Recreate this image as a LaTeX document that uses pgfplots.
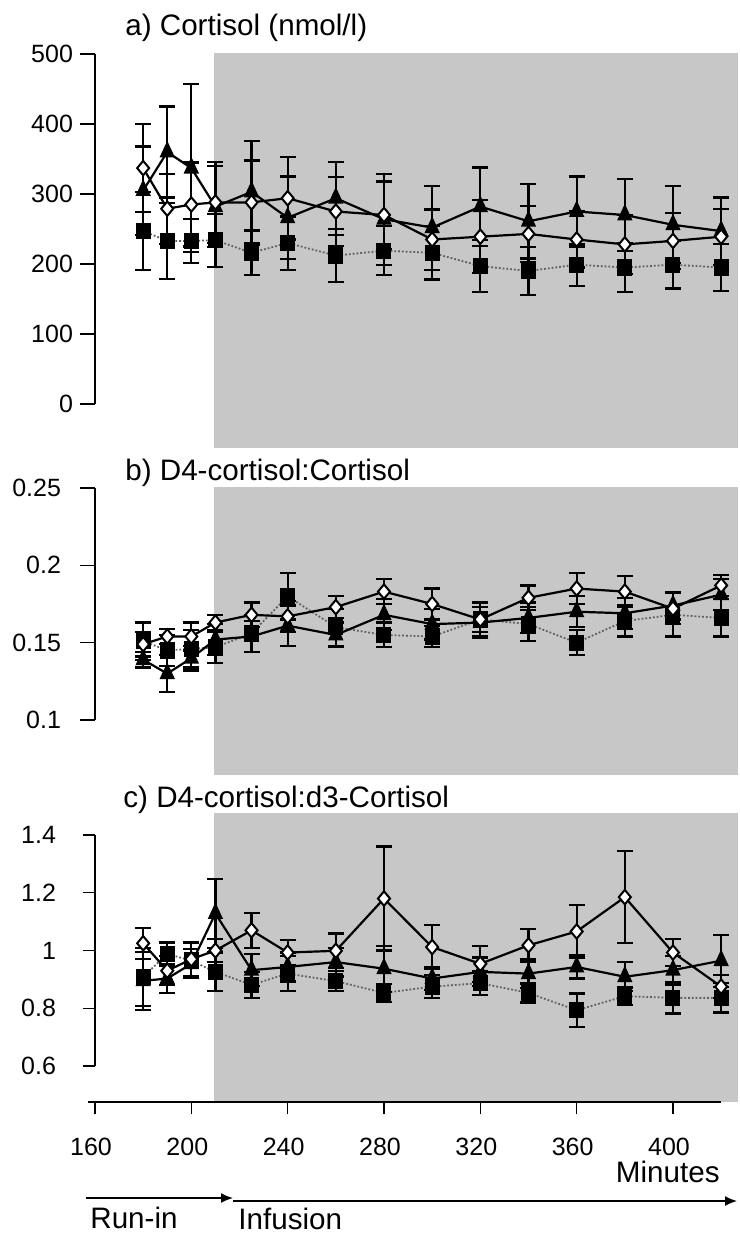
\documentclass[border=0pt]{standalone}
\usepackage{fontspec}
\setmainfont{Liberation Sans}
\usepackage{pgfplots}
\pgfplotsset{compat=1.18}
\usepackage{pgfplotstable}
\usetikzlibrary{arrows.meta}
\definecolor{shade}{RGB}{199,199,199}

% ---------- panel a: Cortisol (nmol/l) ----------
\pgfplotstableread{
x y e
180 337 63
190 279 50
200 285 60
210 288 58
225 288 60
240 294 59
260 275 49
280 270 48
300 235 43
320 239 52
340 243 40
360 235 40
380 228 42
400 233 40
420 239 40
}\aD
\pgfplotstableread{
x y e
180 305 63
190 360 65
200 337 120
210 282 58
225 303 73
240 266 59
260 294 52
280 264 65
300 252 60
320 282 56
340 261 53
360 275 50
380 270 51
400 256 55
420 247 48
}\aT
\pgfplotstableread{
x y e
180 247 56
190 233 54
200 233 31
210 234 38
225 216 32
240 230 38
260 212 38
280 219 35
300 216 38
320 197 37
340 190 34
360 199 30
380 195 35
400 199 34
420 195 34
}\aS
% ---------- panel b: D4-cortisol:Cortisol ----------
\pgfplotstableread{
x y e
180 0.149 0.008
190 0.154 0.005
200 0.154 0.009
210 0.163 0.005
225 0.168 0.008
240 0.167 0.010
260 0.173 0.007
280 0.183 0.008
300 0.175 0.010
320 0.165 0.008
340 0.179 0.008
360 0.185 0.010
380 0.183 0.010
400 0.172 0.010
420 0.187 0.007
}\bD
\pgfplotstableread{
x y e
180 0.139 0.005
190 0.130 0.012
200 0.140 0.008
210 0.152 0.010
225 0.154 0.010
240 0.161 0.013
260 0.155 0.008
280 0.168 0.010
300 0.162 0.010
320 0.163 0.010
340 0.166 0.010
360 0.170 0.010
380 0.169 0.010
400 0.174 0.009
420 0.181 0.010
}\bT
\pgfplotstableread{
x y e
180 0.151 0.012
190 0.145 0.010
200 0.146 0.012
210 0.147 0.010
225 0.156 0.012
240 0.180 0.015
260 0.160 0.012
280 0.155 0.008
300 0.154 0.007
320 0.165 0.011
340 0.162 0.011
360 0.150 0.008
380 0.164 0.010
400 0.168 0.014
420 0.166 0.012
}\bS
% ---------- panel c: D4-cortisol:d3-Cortisol ----------
\pgfplotstableread{
x y e
180 1.025 0.053
190 0.930 0.050
200 0.970 0.060
210 1.000 0.040
225 1.070 0.060
240 0.993 0.043
260 0.999 0.060
280 1.180 0.180
300 1.012 0.075
320 0.954 0.062
340 1.018 0.056
360 1.066 0.093
380 1.185 0.160
400 0.993 0.047
420 0.875 0.040
}\cD
\pgfplotstableread{
x y e
180 0.895 0.100
190 0.903 0.050
200 0.954 0.050
210 1.128 0.120
225 0.932 0.055
240 0.943 0.050
260 0.960 0.050
280 0.937 0.080
300 0.903 0.040
320 0.926 0.050
340 0.920 0.050
360 0.943 0.040
380 0.909 0.050
400 0.932 0.050
420 0.965 0.090
}\cT
\pgfplotstableread{
x y e
180 0.909 0.100
190 0.988 0.040
200 0.965 0.060
210 0.926 0.067
225 0.881 0.045
240 0.920 0.060
260 0.894 0.035
280 0.853 0.030
300 0.875 0.040
320 0.887 0.042
340 0.853 0.033
360 0.793 0.058
380 0.842 0.030
400 0.836 0.054
420 0.836 0.051
}\cS

\pgfplotsset{
  panel/.style={
    scale only axis, anchor=south west, width=321.5pt,
    xmin=160, xmax=427, clip=false,
    axis y line*=left, axis line style={-, line width=0.6pt},
    tick align=outside, major tick length=7.5pt,
    tick style={black, line width=0.6pt},
    /pgf/number format/assume math mode=true,
    ticklabel style={font=\fontsize{12.5}{14}\selectfont},
  },
  errs/.style={error bars/.cd, y dir=both, y explicit,
    error bar style={solid, black, line width=1.1pt},
    error mark options={rotate=90, mark size=4pt, line width=1.1pt, black, solid}},
  serD/.style={black, line width=1.1pt, mark=diamond*, mark size=4pt,
    mark options={fill=white, draw=black, line width=1pt, solid, yscale=0.9}, errs},
  serT/.style={black, line width=1.1pt, mark=triangle*, mark size=4.3pt,
    mark options={fill=black, draw=black, solid, xscale=0.8}, errs},
  serS/.style={gray!75!black, densely dotted, line width=0.9pt, mark=square*, mark size=3.3pt,
    mark options={fill=black, draw=black, solid, yscale=1.1}, errs},
}

\begin{document}
\begin{tikzpicture}
\path[use as bounding box] (0,0) rectangle (369.5pt,-617.5pt);

% ---- panel a ----
\begin{axis}[panel, at={(47.5pt,-202pt)}, height=175pt,
  ymin=0, ymax=500, axis x line=none,
  ytick={0,100,200,300,400,500}]
  \addplot[fill=shade, draw=none, forget plot] coordinates {(209.5,-63) (427,-63) (427,501) (209.5,501)} -- cycle;
  \addplot[serS] table[x=x, y=y, y error=e] {\aS};
  \addplot[serT] table[x=x, y=y, y error=e] {\aT};
  \addplot[serD] table[x=x, y=y, y error=e] {\aD};
\end{axis}

% ---- panel b ----
\begin{axis}[panel, at={(47.5pt,-360pt)}, height=116pt,
  ymin=0.1, ymax=0.25, axis x line=none,
  ytick={0.1,0.15,0.2,0.25},
  yticklabels={0.1\hspace*{6pt},0.15\hspace*{6pt},0.2\hspace*{6pt},0.25\hspace*{6pt}}]
  \addplot[fill=shade, draw=none, forget plot] coordinates {(209.5,0.0644) (427,0.0644) (427,0.2506) (209.5,0.2506)} -- cycle;
  \addplot[serS] table[x=x, y=y, y error=e] {\bS};
  \addplot[serT] table[x=x, y=y, y error=e] {\bT};
  \addplot[serD] table[x=x, y=y, y error=e] {\bD};
\end{axis}

% ---- panel c ----
\begin{axis}[panel, at={(47.5pt,-551pt)}, height=133.5pt,
  ymin=0.4753, ymax=1.4, axis x line*=bottom, major tick length=6pt,
  x axis line style={draw=none}, y axis line style={draw=none},
  xticklabel style={yshift=-8.5pt, xshift=-2pt},
  xtick={160,200,240,280,320,360,400},
  ytick={0.6,0.8,1,1.2,1.4},
  yticklabels={0.6\hspace*{10pt},0.8\hspace*{10pt},1\hspace*{10pt},1.2\hspace*{10pt},1.4\hspace*{10pt}}]
  \addplot[fill=shade, draw=none, forget plot] coordinates {(209.5,0.4753) (427,0.4753) (427,1.476) (209.5,1.476)} -- cycle;
  \draw[line width=0.6pt] (axis cs:160,0.6) -- (axis cs:160,1.4);
  \draw[line width=0.6pt] (axis cs:157,0.4753) -- (axis cs:420,0.4753);
  \addplot[serS] table[x=x, y=y, y error=e] {\cS};
  \addplot[serT] table[x=x, y=y, y error=e] {\cT};
  \addplot[serD] table[x=x, y=y, y error=e] {\cD};
\end{axis}

% ---- titles and annotations ----
\begin{scope}[every node/.style={inner sep=0pt, font=\fontsize{14.8}{17}\selectfont}]
\node[anchor=base west] at (62.5pt,-18pt) {a) Cortisol (nmol/l)};
\node[anchor=base west] at (62.5pt,-240pt) {b) D4-cortisol:Cortisol};
\node[anchor=base west] at (61.5pt,-403.5pt) {c) D4-cortisol:d3-Cortisol};
\node[anchor=base east] at (360pt,-591pt) {Minutes};
\node[anchor=base west] at (45pt,-614pt) {Run-in};
\node[anchor=base west] at (119pt,-614.5pt) {Infusion};
\end{scope}
\draw[line width=0.75pt, -{Latex[length=6pt,width=5pt]}] (43pt,-599pt) -- (116.5pt,-599pt);
\draw[line width=0.75pt, -{Latex[length=6pt,width=5pt]}] (116.5pt,-600.5pt) -- (368.5pt,-600.5pt);
\end{tikzpicture}
\end{document}
